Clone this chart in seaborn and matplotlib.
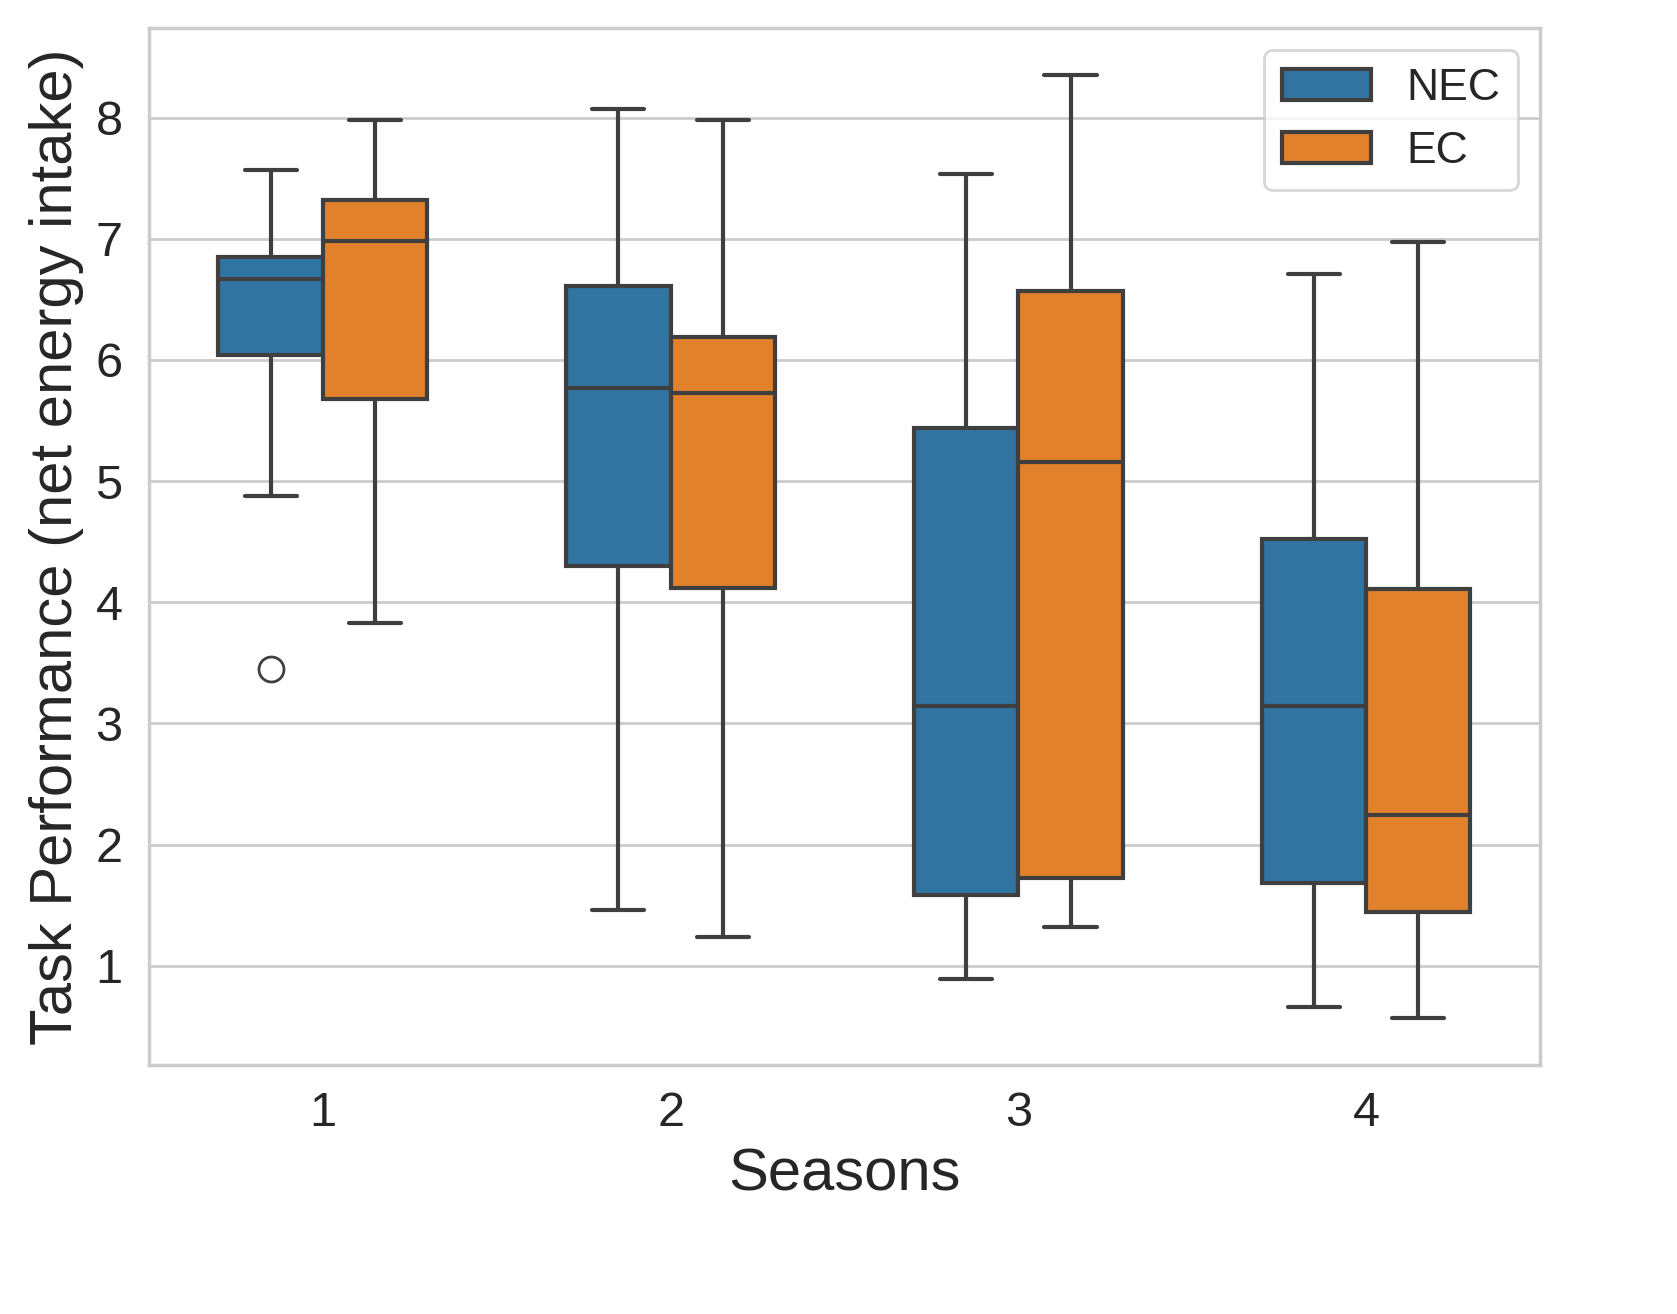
import pandas as pd
import matplotlib.pyplot as plt
import seaborn as sns

seasons = [1, 2, 3, 4]
groups = ["NEC", "EC"]

# values chosen so quartiles / whiskers match the picture
nec_values = [
    [3.45, 4.875, 6.04, 6.5, 6.67, 6.75, 6.845, 7.2, 7.57],
    [1.46, 4.30, 5.77, 6.61, 8.07],
    [0.89, 1.58, 3.14, 5.435, 7.53],
    [0.66, 1.68, 3.14, 4.52, 6.71],
]
ec_values = [
    [3.83, 5.68, 6.98, 7.32, 7.98],
    [1.24, 4.12, 5.73, 6.19, 7.98],
    [1.32, 1.725, 5.16, 6.57, 8.35],
    [0.57, 1.445, 2.24, 4.11, 6.97],
]

rows = []
for s, vals in zip(seasons, nec_values):
    for v in vals:
        rows.append({"Seasons": s, "Group": "NEC", "Performance": v})
for s, vals in zip(seasons, ec_values):
    for v in vals:
        rows.append({"Seasons": s, "Group": "EC", "Performance": v})
df = pd.DataFrame(rows)

sns.set_theme(style="whitegrid")
plt.rcParams['font.family'] = ['Liberation Sans', 'DejaVu Sans']

fig = plt.figure(figsize=(8.385, 6.57), dpi=200)
ax = fig.add_axes([0.0888, 0.1895, 0.8295, 0.7892])
sns.boxplot(data=df, x="Seasons", y="Performance", hue="Group",
            hue_order=groups, palette=["#1f77b4", "#ff7f0e"],
            width=0.6, linewidth=1.5, ax=ax,
            flierprops={"marker": "o", "markersize": 9})

ax.set_xlabel("Seasons", fontsize=21.5)
ax.set_ylabel("Task Performance (net energy intake)", fontsize=21.5)
ax.tick_params(labelsize=17.5)
ax.legend(loc="upper right", fontsize=16, title=None)

fig.savefig("out.png", dpi=200)
